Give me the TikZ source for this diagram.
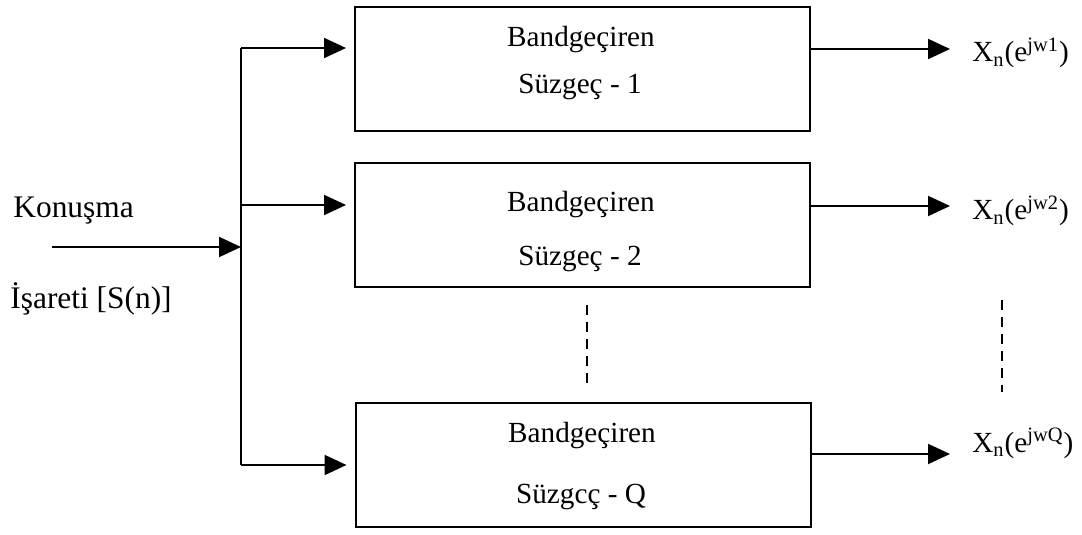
\documentclass[tikz,border=0pt]{standalone}
\usepackage{fontspec}
\setmainfont{Liberation Serif}
\usetikzlibrary{arrows.meta}
\tikzset{
  px/.style={x=0.5pt,y=-0.5pt},
  filt/.style={draw,line width=1pt,minimum width=227.5pt,minimum height=62pt,inner sep=0pt},
  lbl/.style={font=\fontsize{14.6}{17}\selectfont,inner sep=0pt},
  biglbl/.style={font=\fontsize{15.7}{18}\selectfont,inner sep=0pt},
  conn/.style={line width=1pt},
  arr/.style={conn,-{Triangle[length=11pt,width=10pt]}},
  dots/.style={line width=1.3pt,dash pattern=on 5pt off 3.5pt}
}
\begin{document}
\begin{tikzpicture}[px]
\useasboundingbox (0,0) rectangle (1082,535);
% filter boxes
\node[filt] (b1) at (582.5,69.5) {};
\node[filt] (b2) at (582.5,225) {};
\node[filt] (b3) at (583,465) {};
% box texts
\node[lbl,anchor=base] (t1a) at (581,47) {Bandgeçiren};
\node[lbl,anchor=base] (t1b) at (580,94) {Süzgeç - 1};
\node[lbl,anchor=base] (t2a) at (581,212) {Bandgeçiren};
\node[lbl,anchor=base] (t2b) at (580,265) {Süzgeç - 2};
\node[lbl,anchor=base] (t3a) at (582,442) {Bandgeçiren};
\node[lbl,anchor=base] (t3b) at (581,503) {Süzgcç - Q};
% input labels
\node[biglbl,anchor=base west] (kon) at (13,218) {Konuşma};
\node[biglbl,anchor=base west] (isa) at (10,308) {İşareti [S(n)]};
% bus coordinates
\coordinate (in) at (52,247);
\coordinate (j0) at (241,247);
\coordinate (j1) at (241,48);
\coordinate (j2) at (241,205);
\coordinate (j3) at (241,465);
% output coordinates
\coordinate (o1) at (950,49);
\coordinate (o2) at (950,206);
\coordinate (o3) at (950,454);
% output labels
\node[lbl,anchor=base west] (x1) at (972,62) {X\textsubscript{n}(e\textsuperscript{jw1})};
\node[lbl,anchor=base west] (x2) at (972,220) {X\textsubscript{n}(e\textsuperscript{jw2})};
\node[lbl,anchor=base west] (x3) at (972,452) {X\textsubscript{n}(e\textsuperscript{jwQ})};
% connectors
\draw[arr] (in) -- (j0);
\draw[conn] (j1) -- (j3);
\draw[arr,shorten >=4pt] (j1) -- (b1.west |- j1);
\draw[arr,shorten >=4pt] (j2) -- (b2.west |- j2);
\draw[arr,shorten >=4pt] (j3) -- (b3.west |- j3);
\draw[arr] (b1.east |- o1) -- (o1);
\draw[arr] (b2.east |- o2) -- (o2);
\draw[arr] (b3.east |- o3) -- (o3);
% continuation dashes
\coordinate (d1a) at (587,305);
\coordinate (d1b) at (587,383);
\coordinate (d2a) at (1002,300);
\coordinate (d2b) at (1002,392);
\draw[dots] (d1a) -- (d1b);
\draw[dots] (d2a) -- (d2b);
\end{tikzpicture}
\end{document}
